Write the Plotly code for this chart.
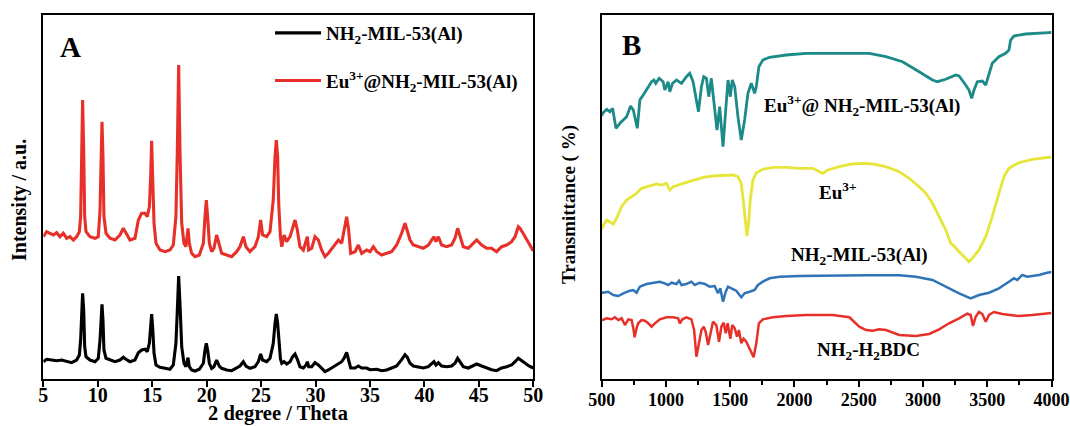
import plotly.graph_objects as go

# ---------------- Panel A: powder XRD (2theta in degrees, intensity a.u.) ----------------
xrd_mof = [
    (5.00, 17.3), (5.31, 19.7), (5.77, 19.0), (6.23, 18.3), (6.69, 19.0), (7.15, 17.3), (7.60, 16.3),
    (8.06, 19.0), (8.31, 24.0), (8.43, 39.0), (8.55, 75.7), (8.61, 85.7), (8.71, 69.0), (8.80, 32.3),
    (8.92, 22.3), (9.29, 19.0), (9.75, 17.3), (10.05, 20.7), (10.21, 39.0), (10.33, 69.0), (10.39, 74.7),
    (10.48, 59.0), (10.57, 29.0), (10.76, 20.7), (11.12, 19.0), (11.58, 17.3), (12.04, 19.0), (12.35, 21.7),
    (12.59, 19.7), (12.96, 17.3), (13.42, 19.0), (13.73, 26.3), (14.03, 29.0), (14.34, 29.7), (14.55, 27.3),
    (14.74, 35.7), (14.86, 52.3), (14.95, 65.0), (15.04, 52.3), (15.17, 25.7), (15.35, 14.0), (15.72, 11.7),
    (16.18, 10.7), (16.63, 9.7), (16.94, 14.0), (17.18, 35.7), (17.31, 69.0), (17.43, 103.0), (17.55, 75.7),
    (17.71, 32.3), (17.92, 15.7), (18.10, 12.3), (18.29, 21.3), (18.41, 12.3), (18.62, 9.0), (18.93, 8.0),
    (19.33, 9.7), (19.70, 15.7), (19.85, 29.0), (19.97, 35.7), (20.09, 29.0), (20.25, 15.7), (20.46, 10.7),
    (20.67, 12.3), (20.92, 19.0), (21.16, 13.0), (21.38, 10.7), (21.84, 9.0), (22.30, 8.3), (22.76, 10.7),
    (23.06, 13.0), (23.37, 17.3), (23.61, 13.0), (23.98, 10.7), (24.44, 12.3), (24.75, 17.3), (24.96, 25.0),
    (25.14, 19.0), (25.51, 17.3), (25.82, 20.7), (26.12, 35.7), (26.28, 55.7), (26.40, 65.0), (26.52, 55.7),
    (26.62, 40.0), (26.78, 20.0), (26.90, 15.7), (27.11, 17.3), (27.35, 15.0), (27.66, 17.3), (27.90, 22.3),
    (28.12, 25.0), (28.33, 19.7), (28.57, 12.3), (28.88, 11.0), (29.13, 14.0), (29.25, 17.3), (29.37, 12.3),
    (29.65, 12.3), (29.95, 16.3), (30.26, 14.0), (30.56, 11.0), (30.87, 7.3), (31.18, 9.0), (31.64, 12.3),
    (32.10, 15.0), (32.40, 17.3), (32.62, 20.7), (32.86, 26.7), (33.04, 19.0), (33.23, 11.0), (33.63, 11.0),
    (33.93, 13.0), (34.24, 11.0), (34.70, 11.0), (35.00, 9.3), (35.62, 9.7), (36.07, 8.3), (36.53, 9.0),
    (36.99, 11.0), (37.45, 13.0), (37.91, 19.3), (38.22, 24.3), (38.43, 21.7), (38.68, 15.7), (38.98, 13.0),
    (39.44, 12.3), (39.90, 11.0), (40.36, 12.3), (40.67, 15.0), (40.88, 17.3), (41.06, 14.0), (41.28, 16.3),
    (41.58, 13.0), (42.04, 12.3), (42.50, 13.0), (42.81, 15.7), (43.05, 20.7), (43.27, 17.3), (43.57, 12.3),
    (44.03, 11.0), (44.49, 13.0), (44.80, 15.0), (45.26, 13.0), (45.72, 11.0), (46.17, 9.3), (46.63, 8.3),
    (47.09, 11.0), (47.55, 12.3), (48.01, 14.0), (48.32, 17.3), (48.62, 20.7), (48.85, 19.0), (49.20, 16.0),
    (49.60, 13.0), (50.00, 11.0),
]

xrd_eu_mof = [
    (5.00, 142.3), (5.31, 147.3), (5.62, 145.7), (5.92, 144.0), (6.23, 146.3), (6.53, 142.3), (6.84, 145.7),
    (7.15, 140.7), (7.45, 142.3), (7.76, 139.0), (8.06, 142.3), (8.31, 147.3), (8.43, 162.3), (8.55, 229.0),
    (8.61, 279.0), (8.71, 229.0), (8.80, 162.3), (8.92, 147.3), (9.29, 142.3), (9.75, 140.7), (10.05, 142.3),
    (10.21, 169.0), (10.33, 229.0), (10.39, 257.3), (10.48, 222.3), (10.57, 162.3), (10.76, 145.7),
    (11.12, 140.7), (11.58, 139.0), (12.04, 144.0), (12.35, 150.7), (12.59, 145.7), (12.96, 139.0),
    (13.42, 140.7), (13.73, 159.0), (14.03, 165.7), (14.34, 165.7), (14.55, 162.3), (14.74, 172.3),
    (14.86, 202.3), (14.95, 238.3), (15.04, 202.3), (15.17, 155.7), (15.35, 135.7), (15.72, 129.0),
    (16.18, 127.3), (16.63, 129.0), (16.94, 134.0), (17.18, 162.3), (17.31, 229.0), (17.43, 314.0),
    (17.55, 229.0), (17.71, 155.7), (17.92, 135.7), (18.10, 132.3), (18.29, 150.7), (18.41, 135.7),
    (18.62, 125.7), (18.93, 122.3), (19.33, 124.0), (19.70, 135.7), (19.85, 162.3), (19.97, 179.0),
    (20.09, 162.3), (20.25, 135.7), (20.46, 127.3), (20.67, 130.7), (20.92, 144.0), (21.16, 135.7),
    (21.38, 125.7), (21.84, 124.0), (22.30, 122.3), (22.76, 127.3), (23.06, 132.3), (23.37, 142.3),
    (23.61, 132.3), (23.98, 127.3), (24.44, 132.3), (24.75, 142.3), (24.96, 159.0), (25.14, 144.0),
    (25.51, 142.3), (25.82, 147.3), (26.12, 179.0), (26.28, 222.3), (26.40, 239.0), (26.52, 222.3),
    (26.62, 175.0), (26.78, 142.0), (26.90, 132.3), (27.11, 144.0), (27.35, 137.3), (27.66, 142.3),
    (27.90, 152.3), (28.12, 159.0), (28.33, 149.0), (28.57, 132.3), (28.88, 129.0), (29.13, 139.0),
    (29.25, 142.3), (29.37, 129.0), (29.65, 130.7), (29.95, 142.3), (30.26, 139.0), (30.56, 129.0),
    (30.87, 122.3), (31.18, 125.7), (31.64, 132.3), (32.10, 139.0), (32.40, 135.7), (32.62, 149.0),
    (32.86, 162.3), (33.04, 149.0), (33.23, 125.7), (33.63, 127.3), (33.93, 134.0), (34.24, 125.7),
    (34.70, 129.0), (35.00, 127.3), (35.31, 132.3), (35.62, 127.3), (36.07, 124.0), (36.53, 125.7),
    (36.99, 127.3), (37.45, 134.0), (37.91, 145.7), (38.22, 155.7), (38.43, 149.0), (38.68, 139.0),
    (38.98, 134.0), (39.44, 132.3), (39.90, 130.7), (40.36, 134.0), (40.67, 139.0), (40.88, 142.3),
    (41.06, 137.3), (41.28, 142.3), (41.58, 134.0), (42.04, 132.3), (42.50, 134.0), (42.81, 140.7),
    (43.05, 150.7), (43.27, 142.3), (43.57, 132.3), (44.03, 130.7), (44.49, 135.7), (44.80, 139.0),
    (45.26, 134.0), (45.72, 130.7), (46.17, 130.7), (46.63, 127.3), (47.09, 132.3), (47.55, 134.0),
    (48.01, 137.3), (48.32, 142.3), (48.62, 152.3), (48.78, 150.7), (49.10, 145.0), (49.45, 138.0),
    (49.75, 132.0), (50.00, 128.0),
]

# ---------------- Panel B: FTIR (wavenumber cm-1, offset transmittance) ----------------
ir_eu_mof = [
    (500, 263.0), (507, 265.7), (539, 269.7), (564, 267.3), (585, 270.7), (611, 250.7), (642, 255.7),
    (668, 259.0), (694, 262.3), (725, 273.0), (746, 269.0), (777, 250.7), (797, 279.0), (823, 284.0),
    (862, 292.3), (888, 297.3), (906, 299.0), (921, 295.7), (947, 300.7), (978, 297.3), (991, 289.0),
    (1017, 297.3), (1030, 287.3), (1051, 295.7), (1082, 299.0), (1121, 295.7), (1159, 302.3),
    (1185, 305.7), (1211, 297.3), (1253, 267.3), (1276, 292.3), (1294, 302.3), (1315, 300.7),
    (1333, 282.3), (1353, 300.7), (1379, 272.3), (1397, 249.0), (1418, 272.3), (1444, 232.3),
    (1465, 269.0), (1483, 299.0), (1501, 282.3), (1516, 299.0), (1535, 292.3), (1560, 262.3),
    (1586, 239.0), (1612, 259.0), (1638, 285.7), (1664, 295.7), (1690, 285.7), (1703, 292.3),
    (1723, 312.3), (1754, 319.0), (1806, 321.7), (1936, 324.0), (2091, 325.7), (2194, 325.7),
    (2272, 326.3), (2450, 326.0), (2582, 325.7), (2711, 322.3), (2841, 317.3), (2970, 307.3),
    (3074, 299.0), (3112, 297.3), (3177, 299.7), (3255, 304.0), (3281, 303.0), (3332, 294.0),
    (3358, 289.0), (3379, 280.7), (3397, 289.0), (3423, 297.3), (3462, 298.0), (3488, 294.0),
    (3513, 304.0), (3539, 315.7), (3591, 322.3), (3643, 325.7), (3669, 329.0), (3682, 339.0),
    (3707, 343.0), (3798, 345.0), (3979, 346.3), (4000, 346.5),
]

ir_eu = [
    (500, 150.0), (507, 152.3), (539, 159.0), (564, 157.3), (590, 155.0), (616, 160.7), (655, 172.3),
    (694, 179.0), (733, 182.3), (771, 185.7), (810, 190.7), (849, 192.3), (888, 193.3), (927, 195.0),
    (965, 194.0), (1004, 195.7), (1030, 189.0), (1056, 192.3), (1134, 195.7), (1211, 199.0),
    (1289, 201.7), (1366, 203.0), (1444, 203.7), (1522, 204.0), (1560, 202.3), (1586, 195.7),
    (1604, 175.7), (1620, 152.3), (1630, 143.0), (1643, 155.7), (1656, 179.0), (1677, 199.0),
    (1703, 206.3), (1754, 209.7), (1832, 211.7), (1936, 211.7), (2039, 210.7), (2142, 210.7),
    (2194, 207.3), (2220, 205.7), (2259, 209.0), (2349, 212.3), (2453, 215.0), (2530, 215.7),
    (2608, 215.0), (2711, 212.3), (2815, 207.3), (2892, 200.7), (2970, 192.3), (3022, 185.7),
    (3074, 175.7), (3125, 162.3), (3177, 149.0), (3216, 135.7), (3242, 133.0), (3281, 127.3),
    (3332, 120.7), (3358, 117.3), (3384, 120.7), (3436, 129.0), (3488, 142.3), (3539, 162.3),
    (3591, 185.7), (3630, 202.3), (3669, 210.7), (3746, 216.3), (3850, 219.7), (3979, 221.7),
    (4000, 222.0),
]

ir_mof = [
    (500, 86.0), (507, 86.3), (551, 87.3), (590, 84.0), (629, 83.0), (668, 85.7), (720, 88.3),
    (746, 89.0), (771, 86.3), (797, 92.3), (849, 95.0), (901, 96.3), (952, 97.3), (991, 95.7),
    (1017, 94.0), (1043, 96.3), (1082, 95.0), (1102, 98.3), (1121, 94.0), (1159, 95.0), (1198, 97.3),
    (1224, 94.0), (1263, 96.3), (1302, 95.0), (1340, 92.3), (1379, 93.0), (1405, 85.7), (1423, 90.7),
    (1444, 77.3), (1465, 87.3), (1483, 92.3), (1509, 90.7), (1547, 88.3), (1586, 81.7), (1612, 85.7),
    (1651, 87.3), (1690, 89.0), (1716, 94.0), (1754, 97.3), (1806, 100.7), (1884, 102.3),
    (2039, 103.0), (2298, 103.7), (2557, 103.7), (2815, 103.7), (2944, 102.3), (3074, 99.0),
    (3177, 92.3), (3281, 85.7), (3371, 80.7), (3436, 84.0), (3514, 86.3), (3591, 90.7), (3669, 97.3),
    (3708, 100.7), (3734, 99.0), (3772, 104.0), (3811, 102.3), (3850, 103.0), (3902, 104.0),
    (3966, 106.3), (4000, 107.0),
]

ir_ligand = [
    (500, 59.0), (507, 59.0), (539, 60.7), (577, 59.7), (603, 61.7), (629, 59.0), (655, 60.7),
    (681, 54.0), (707, 59.7), (733, 59.0), (746, 50.7), (756, 41.7), (771, 50.7), (784, 55.7),
    (810, 59.0), (836, 58.3), (862, 55.7), (888, 52.3), (914, 55.7), (952, 59.7), (1004, 61.7),
    (1056, 61.7), (1095, 60.7), (1108, 55.7), (1128, 59.7), (1159, 61.7), (1198, 59.7), (1219, 49.0),
    (1237, 22.3), (1258, 39.0), (1276, 49.0), (1294, 52.3), (1309, 47.3), (1328, 34.0), (1348, 47.3),
    (1366, 57.3), (1392, 54.0), (1413, 37.3), (1431, 52.3), (1449, 56.3), (1465, 45.7), (1480, 55.7),
    (1501, 40.3), (1516, 54.0), (1535, 50.7), (1553, 42.3), (1568, 49.0), (1586, 35.7), (1604, 40.3),
    (1625, 37.3), (1656, 29.0), (1682, 21.7), (1703, 35.7), (1723, 55.7), (1754, 59.7), (1832, 61.7),
    (1936, 63.0), (2091, 64.0), (2298, 64.0), (2427, 61.7), (2505, 52.3), (2556, 49.0), (2608, 48.3),
    (2660, 49.7), (2712, 49.0), (2763, 46.3), (2815, 44.0), (2944, 43.0), (3048, 45.0), (3126, 49.7),
    (3203, 55.7), (3281, 60.7), (3345, 65.3), (3371, 64.0), (3389, 53.0), (3410, 62.3), (3436, 67.0),
    (3462, 65.0), (3488, 57.3), (3514, 64.0), (3552, 67.0), (3617, 65.0), (3695, 64.0), (3746, 63.0),
    (3850, 64.0), (3966, 65.7), (4000, 66.0),
]

xrd_ticks = [5, 10, 15, 20, 25, 30, 35, 40, 45, 50]
ir_ticks = [500, 1000, 1500, 2000, 2500, 3000, 3500, 4000]

SERIF = "Liberation Serif"


def xy(pairs):
    return [p[0] for p in pairs], [p[1] for p in pairs]


fig = go.Figure()

x, y = xy(xrd_mof)
fig.add_trace(go.Scatter(x=x, y=y, mode="lines", name="NH<sub>2</sub>-MIL-53(Al)",
                         line=dict(color="#000000", width=3.1), legendgroup="a",
                         xaxis="x", yaxis="y"))
x, y = xy(xrd_eu_mof)
fig.add_trace(go.Scatter(x=x, y=y, mode="lines", name="Eu<sup>3+</sup>@NH<sub>2</sub>-MIL-53(Al)",
                         line=dict(color="#E8302A", width=3.1), legendgroup="b",
                         xaxis="x", yaxis="y"))

ir_series = [
    (ir_eu_mof, "#1C8A88", 2.8),
    (ir_eu, "#E6E63A", 2.8),
    (ir_mof, "#2F74B8", 2.5),
    (ir_ligand, "#E8302A", 2.5),
]
for pairs, color, w in ir_series:
    x, y = xy(pairs)
    fig.add_trace(go.Scatter(x=x, y=y, mode="lines", showlegend=False,
                             line=dict(color=color, width=w), xaxis="x2", yaxis="y2"))

W, H = 1070, 426
top_px, bot_px = 15, 379
ydom = [(H - bot_px) / H, (H - top_px) / H]

axis_common = dict(showline=True, linecolor="black", linewidth=2, mirror=True,
                   showgrid=False, zeroline=False, automargin=False)

tick_font_a = dict(family=SERIF, size=20, color="black", weight="bold")
tick_font_b = dict(family=SERIF, size=18, color="black", weight="bold")

fig.update_layout(
    template="none",
    width=W, height=H, autosize=False,
    margin=dict(l=0, r=0, t=0, b=0, pad=0),
    paper_bgcolor="white", plot_bgcolor="white",
    xaxis=dict(domain=[43.3 / W, 533.3 / W], range=[5, 50], tickmode="array",
               tickvals=xrd_ticks, ticks="outside", ticklen=6, tickwidth=2,
               tickcolor="black", tickfont=tick_font_a, ticklabelstandoff=-9,
               ticklabeloverflow="allow", anchor="y", **axis_common),
    yaxis=dict(domain=ydom, range=[0, 364], showticklabels=False, ticks="",
               anchor="x", **axis_common),
    xaxis2=dict(domain=[601.7 / W, 1051.5 / W], range=[500, 4000], tickmode="array",
                tickvals=ir_ticks, ticks="outside", ticklen=6, tickwidth=2,
                tickcolor="black", tickfont=tick_font_b, ticklabelstandoff=-3,
                ticklabeloverflow="allow", anchor="y2",
                minor=dict(ticks="outside", ticklen=4, tickwidth=1.5, tickcolor="black",
                           tickmode="linear", tick0=500, dtick=250),
                **axis_common),
    yaxis2=dict(domain=ydom, range=[0, 364], showticklabels=False, ticks="",
                anchor="x2", **axis_common),
    legend=dict(x=270 / W, y=(H - 14) / H, xanchor="left", yanchor="top",
                bgcolor="rgba(0,0,0,0)", borderwidth=0, itemwidth=46,
                traceorder="grouped", tracegroupgap=20,
                font=dict(family=SERIF, size=19, color="black", weight="bold")),
    showlegend=True,
)

label_font = dict(family=SERIF, size=19, color="black", weight="bold")
annotations = [
    # panel letters
    dict(text="A", x=70 / W, y=(H - 47) / H, xref="paper", yref="paper",
         xanchor="center", yanchor="middle", showarrow=False,
         font=dict(family=SERIF, size=29, color="black", weight="bold")),
    dict(text="B", x=631 / W, y=(H - 45) / H, xref="paper", yref="paper",
         xanchor="center", yanchor="middle", showarrow=False,
         font=dict(family=SERIF, size=29, color="black", weight="bold")),
    # axis titles
    dict(text="2 degree / Theta", x=278 / W, y=(H - 413) / H, xref="paper", yref="paper",
         xanchor="center", yanchor="middle", showarrow=False,
         font=dict(family=SERIF, size=20.5, color="black", weight="bold")),
    dict(text="Intensity / a.u.", x=19 / W, y=(H - 200) / H, xref="paper", yref="paper",
         xanchor="center", yanchor="middle", textangle=-90, showarrow=False,
         font=dict(family=SERIF, size=20, color="black", weight="bold")),
    dict(text="Transmittance ( %)", x=569 / W, y=(H - 205) / H, xref="paper", yref="paper",
         xanchor="center", yanchor="middle", textangle=-90, showarrow=False,
         font=dict(family=SERIF, size=19, color="black", weight="bold")),
    # curve labels in the FTIR panel
    dict(text="Eu<sup>3+</sup>@ NH<sub>2</sub>-MIL-53(Al)", x=1744, y=273, xref="x2", yref="y2",
         xanchor="left", yanchor="middle", showarrow=False, font=label_font),
    dict(text="Eu<sup>3+</sup>", x=2333, y=188, xref="x2", yref="y2",
         xanchor="center", yanchor="middle", showarrow=False, font=label_font),
    dict(text="NH<sub>2</sub>-MIL-53(Al)", x=2504, y=123, xref="x2", yref="y2",
         xanchor="center", yanchor="middle", showarrow=False, font=label_font),
    dict(text="NH<sub>2</sub>-H<sub>2</sub>BDC", x=2574, y=28, xref="x2", yref="y2",
         xanchor="center", yanchor="middle", showarrow=False, font=label_font),
]
fig.update_layout(annotations=annotations)

fig.write_html("out.html")
